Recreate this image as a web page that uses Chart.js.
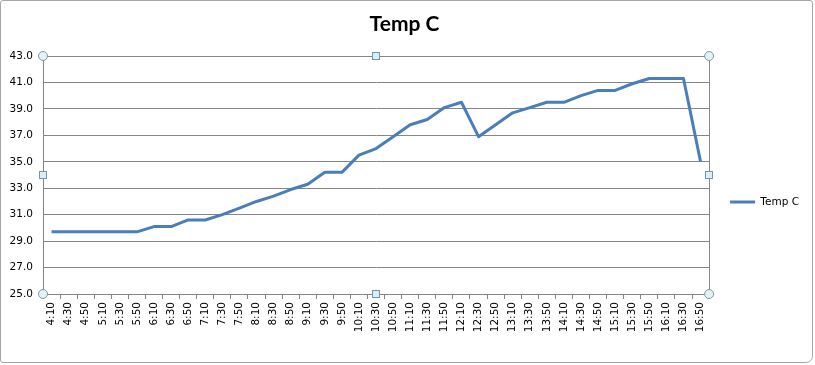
<!DOCTYPE html>
<html lang="en">
<head>
<meta charset="UTF-8">
<title>Temp C</title>
<script src="https://cdn.jsdelivr.net/npm/chart.js"></script>
<style>
  body { margin: 0; background: #fff; }
  #wrap { position: relative; width: 815px; height: 365px; }
  #chart { position: absolute; left: 0; top: 0; }
  #frame { position: absolute; left: 0; top: 0; width: 811px; height: 361px; border: 1px solid #a6a6a6; border-radius: 3px 3px 7px 3px; pointer-events: none; }
</style>
</head>
<body>
<div id="wrap">
  <canvas id="chart" width="815" height="365"></canvas>
  <div id="frame"></div>
</div>
<script>
const times = ['4:10','4:30','4:50','5:10','5:30','5:50','6:10','6:30','6:50','7:10',
  '7:30','7:50','8:10','8:30','8:50','9:10','9:30','9:50','10:10','10:30',
  '10:50','11:10','11:30','11:50','12:10','12:30','12:50','13:10','13:30','13:50',
  '14:10','14:30','14:50','15:10','15:30','15:50','16:10','16:30','16:50'];
const tempC = [29.7,29.7,29.7,29.7,29.7,29.7,30.1,30.1,30.6,30.6,
  31.0,31.5,32.0,32.4,32.9,33.3,34.2,34.2,35.5,36.0,
  36.9,37.8,38.2,39.1,39.5,36.9,37.8,38.7,39.1,39.5,
  39.5,40.0,40.4,40.4,40.9,41.3,41.3,41.3,35.0];
const yMin = 25, yMax = 43, yStep = 2;

const gridGray = '#868686';
const tickFont = { family: 'DejaVu Sans', size: 10.5 };

// plot-area border on the right + the little selection handles excel shows
const handles = {
  id: 'handles',
  afterDraw(chart) {
    const { ctx, chartArea: a } = chart;
    ctx.save();
    ctx.strokeStyle = gridGray;
    ctx.lineWidth = 1;
    ctx.beginPath();
    ctx.moveTo(Math.round(a.right) + 0.5, a.top);
    ctx.lineTo(Math.round(a.right) + 0.5, a.bottom);
    ctx.stroke();
    const mx = (a.left + a.right) / 2, my = (a.top + a.bottom) / 2;
    [[a.left, a.top], [a.right, a.top], [a.left, a.bottom], [a.right, a.bottom]].forEach(([x, y]) => {
      ctx.beginPath();
      ctx.arc(x, y, 4.5, 0, Math.PI * 2);
      ctx.fillStyle = '#e4f1f6';
      ctx.fill();
      ctx.strokeStyle = '#8296a4';
      ctx.stroke();
    });
    [[mx, a.top], [mx, a.bottom], [a.left, my], [a.right, my]].forEach(([x, y]) => {
      ctx.fillStyle = '#dcedf5';
      ctx.fillRect(Math.round(x) - 3.5, Math.round(y) - 3.5, 7, 7);
      ctx.strokeStyle = '#6f96b4';
      ctx.strokeRect(Math.round(x) - 3.5, Math.round(y) - 3.5, 7, 7);
    });
    ctx.restore();
  }
};

new Chart(document.getElementById('chart'), {
  type: 'line',
  data: {
    labels: times,
    datasets: [{
      label: 'Temp C',
      data: tempC,
      borderColor: '#4a7ebb',
      backgroundColor: '#4a7ebb',
      borderWidth: 3,
      pointRadius: 0,
      tension: 0,
      borderJoinStyle: 'round',
      fill: false
    }]
  },
  options: {
    responsive: false,
    animation: false,
    layout: { padding: { left: 0, right: 6, top: 0, bottom: 0 } },
    plugins: {
      title: {
        display: true,
        text: 'Temp C',
        color: '#000',
        font: { family: 'Lato', size: 21, weight: 'bold' },
        padding: { top: 12, bottom: 18.8 }
      },
      legend: {
        position: 'right',
        align: 'center',
        title: { display: true, text: '', padding: { top: 27, bottom: 0 }, font: { size: 10 } },
        labels: {
          usePointStyle: true,
          pointStyle: 'line',
          pointStyleWidth: 25,
          padding: 21,
          color: '#000',
          font: tickFont
        }
      },
      tooltip: { enabled: false }
    },
    scales: {
      x: {
        offset: true,
        grid: { offset: true, drawOnChartArea: false, drawTicks: true, tickLength: 5, color: gridGray },
        border: { display: true, color: gridGray },
        ticks: { autoSkip: false, minRotation: 90, maxRotation: 90, padding: 3, color: '#000', font: tickFont },
        afterFit(s) { s.height = 71; }
      },
      y: {
        min: yMin,
        max: yMax,
        grid: { color: gridGray, drawTicks: false },
        border: { display: true, color: gridGray },
        ticks: {
          stepSize: yStep,
          padding: 10,
          color: '#000',
          font: tickFont,
          callback: v => v.toFixed(1)
        },
        afterFit(s) { s.width = 43; }
      }
    }
  },
  plugins: [handles]
});
</script>
</body>
</html>
